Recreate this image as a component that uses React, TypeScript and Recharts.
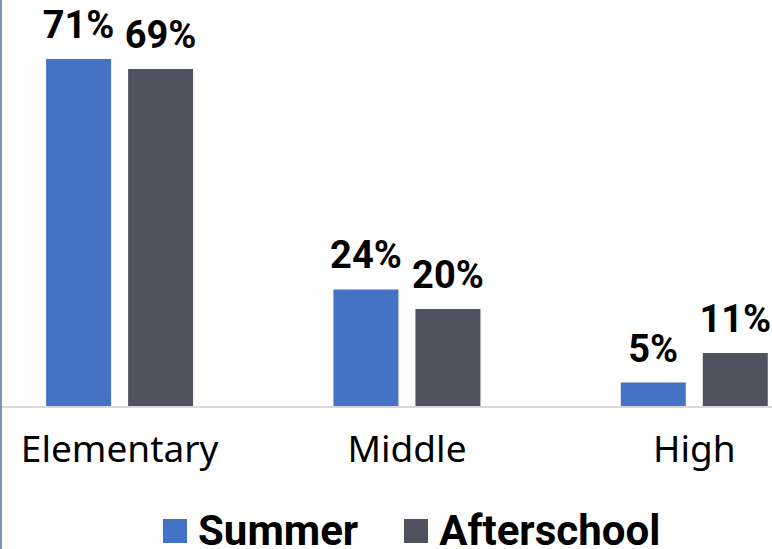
import React from "react";
import { BarChart, Bar, XAxis, YAxis, LabelList } from "recharts";

const categories = ["Elementary", "Middle", "High"];
const summer = [71, 24, 5];
const afterschool = [69, 20, 11];
const seriesNames = ["Summer", "Afterschool"];
const seriesColors = ["#4472C4", "#50535F"];

const data = categories.map((c, i) => ({ name: c, summer: summer[i], afterschool: afterschool[i] }));
const keys = ["summer", "afterschool"];

const fmt = (v: any) => `${v}%`;

export default function App() {
  return (
    <div style={{ position: "fixed", left: 0, top: 0, width: 772, height: 549, overflow: "hidden", background: "#fff" }}>
      <div style={{ position: "absolute", left: -24, top: 0 }}>
        <BarChart
          width={862}
          height={549}
          data={data}
          margin={{ top: 15, right: 0, bottom: 0, left: 0 }}
          barCategoryGap="24.4%"
          barGap={17}
        >
          <YAxis hide domain={[0, 80]} />
          <XAxis
            dataKey="name"
            height={142}
            axisLine={{ stroke: "#D9D9D9", strokeWidth: 2 }}
            tickLine={false}
            tickMargin={23}
            interval={0}
            tick={{ fill: "#000", fontSize: 37, fontFamily: "Noto Sans" }}
          />
          {keys.map((k, i) => (
            <Bar key={k} dataKey={k} name={seriesNames[i]} fill={seriesColors[i]} isAnimationActive={false}>
              <LabelList
                dataKey={k}
                position="top"
                offset={21}
                formatter={fmt}
                style={{ fill: "#000", fontSize: 38, fontWeight: 700, fontFamily: "Roboto" }}
              />
            </Bar>
          ))}
        </BarChart>
      </div>
      <div style={{ position: "absolute", left: 0, top: 0, width: 2, height: 549, background: "#7F93BA" }} />
      <div
        style={{
          position: "absolute",
          left: 163,
          top: 503,
          display: "flex",
          alignItems: "center",
          fontFamily: "Roboto",
          fontWeight: 700,
          fontSize: 42,
          color: "#000",
          whiteSpace: "nowrap",
        }}
      >
        {seriesNames.map((n, i) => (
          <div key={n} style={{ display: "flex", alignItems: "center", marginRight: i === 0 ? 46 : 0 }}>
            <div style={{ width: 24, height: 24, background: seriesColors[i], marginRight: 11 }} />
            <span style={{ lineHeight: "56px" }}>{n}</span>
          </div>
        ))}
      </div>
    </div>
  );
}
